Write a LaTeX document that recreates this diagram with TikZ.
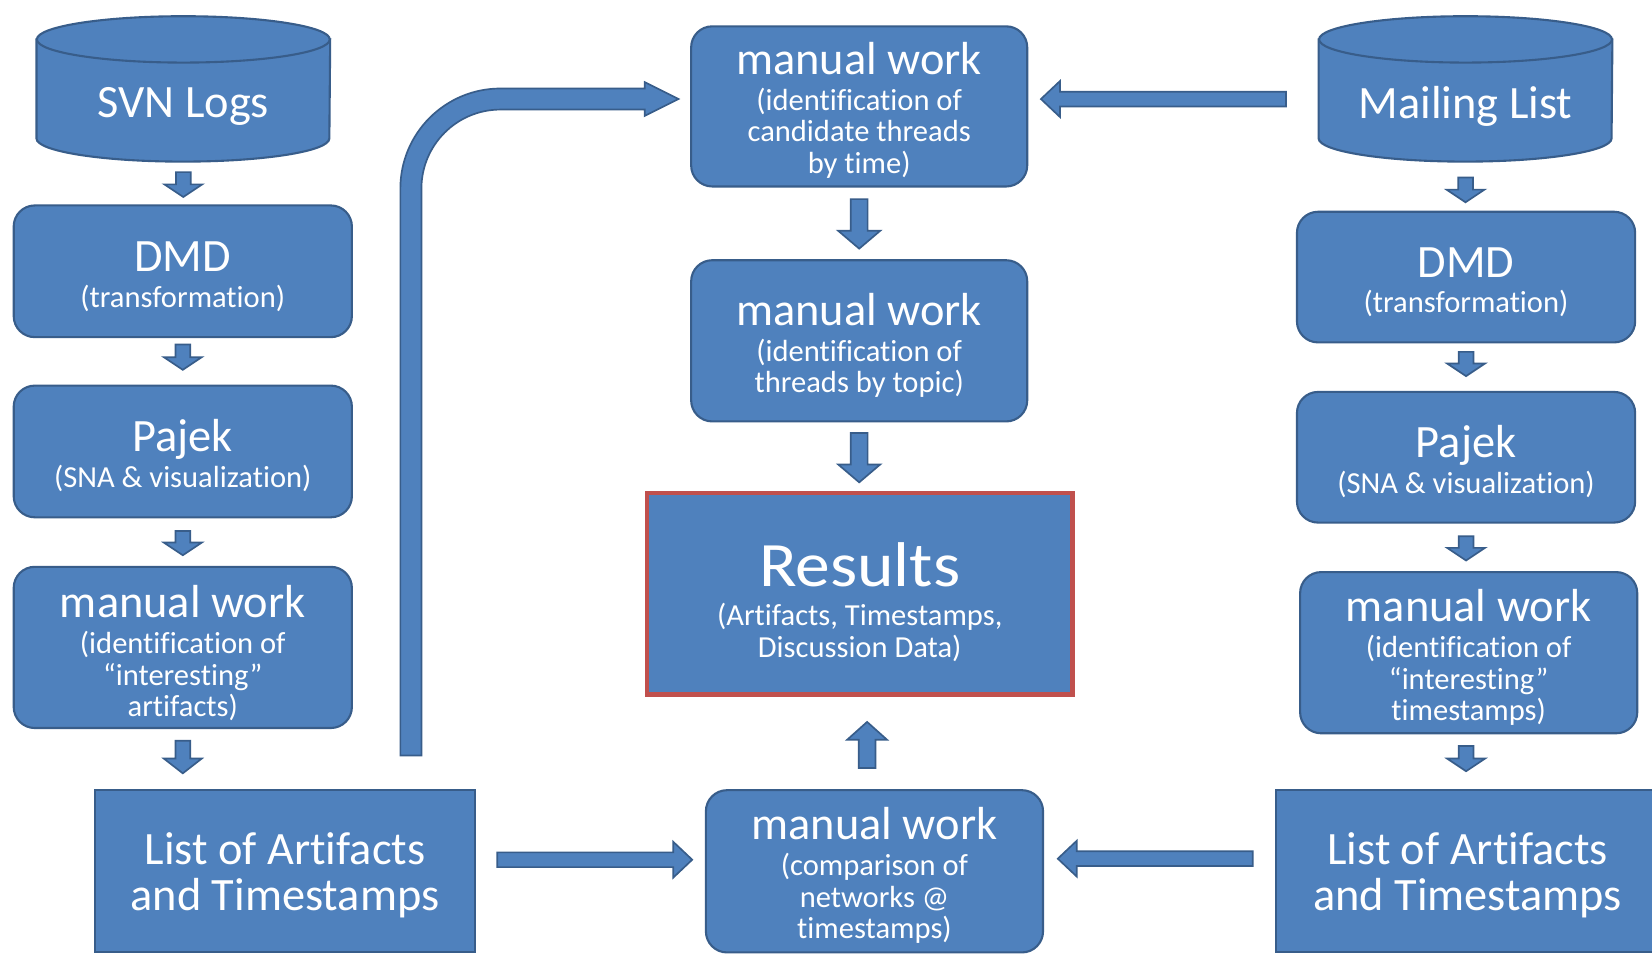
\documentclass[tikz,border=0pt]{standalone}
\usepackage{fontspec}
\usepackage{graphicx}
\setmainfont{Carlito}[Ligatures=NoCommon]
\usetikzlibrary{calc}
\definecolor{bfill}{HTML}{4F81BD}
\definecolor{bdraw}{HTML}{385D8A}
\definecolor{rdraw}{HTML}{C0504D}
\newcommand{\ttl}{\fontsize{22}{24}\selectfont}
\newcommand{\sbt}{\fontsize{14.5}{15}\selectfont}
\newcommand{\lst}{\fontsize{22}{22}\selectfont}
\newcommand{\up}[1]{\rule{0pt}{#1}}
\pgfdeclarelayer{background}
\pgfsetlayers{background,main}
% block arrows: #1 start coord, #2 end coord, #3 shaft half width, #4 head half width, #5 head length
\newcommand{\darr}[5]{\draw[blk] ($(#1)+(-#3,0)$) -- ($(#1)+(#3,0)$) -- ($(#1|-#2)+(#3,-#5)$) -- ($(#1|-#2)+(#4,-#5)$) -- (#1|-#2) -- ($(#1|-#2)+(-#4,-#5)$) -- ($(#1|-#2)+(-#3,-#5)$) -- cycle;}
\newcommand{\uarr}[5]{\draw[blk] ($(#1)+(-#3,0)$) -- ($(#1)+(#3,0)$) -- ($(#1|-#2)+(#3,#5)$) -- ($(#1|-#2)+(#4,#5)$) -- (#1|-#2) -- ($(#1|-#2)+(-#4,#5)$) -- ($(#1|-#2)+(-#3,#5)$) -- cycle;}
\newcommand{\rarr}[5]{\draw[blk] ($(#1)+(0,-#3)$) -- ($(#2|-#1)+(-#5,-#3)$) -- ($(#2|-#1)+(-#5,-#4)$) -- (#2|-#1) -- ($(#2|-#1)+(-#5,#4)$) -- ($(#2|-#1)+(-#5,#3)$) -- ($(#1)+(0,#3)$) -- cycle;}
\newcommand{\larr}[5]{\draw[blk] ($(#1)+(0,-#3)$) -- ($(#2|-#1)+(#5,-#3)$) -- ($(#2|-#1)+(#5,-#4)$) -- (#2|-#1) -- ($(#2|-#1)+(#5,#4)$) -- ($(#2|-#1)+(#5,#3)$) -- ($(#1)+(0,#3)$) -- cycle;}
\tikzset{
  box/.style={draw=bdraw, fill=bfill, line width=1pt, text=white, align=center, font=\sbt, inner sep=0pt},
  rbox/.style={box, rounded corners=10pt},
  sbox/.style={box, font=\lst},
  blk/.style={draw=bdraw, fill=bfill, line width=0.8pt, line join=miter},
  cyl/.style={draw=bdraw, fill=bfill, line width=1pt},
  dbtext/.style={text=white, font=\ttl, inner sep=0pt},
}
\begin{document}
\begin{tikzpicture}[x=0.5pt,y=-0.5pt]
\useasboundingbox (0,0) rectangle (1568,909);

% ---------- databases ----------
\node[dbtext, minimum width=139pt, minimum height=52pt] (svn) at (174,101) {SVN Logs};
\node[dbtext, minimum width=139pt, minimum height=52pt] (mail) at (1391,101) {Mailing List};
\begin{pgfonlayer}{background}
\fill[white] (0,0) rectangle (1568,909);
\draw[cyl] ($(svn.south west)+(0,-116)$) -- ($(svn.south west)+(0,-22)$) arc[start angle=180,end angle=0,x radius=139,y radius=22] -- ($(svn.south east)+(0,-116)$) -- cycle;
\draw[cyl] ($(svn.south)+(0,-116)$) ellipse[x radius=139, y radius=22];
\draw[cyl] ($(mail.south west)+(0,-116)$) -- ($(mail.south west)+(0,-22)$) arc[start angle=180,end angle=0,x radius=139,y radius=22] -- ($(mail.south east)+(0,-116)$) -- cycle;
\draw[cyl] ($(mail.south)+(0,-116)$) ellipse[x radius=139, y radius=22];
\end{pgfonlayer}

% ---------- left column ----------
\node[rbox, minimum width=160.5pt, minimum height=62.5pt] (dmdL) at (173.5,257.5) {{\ttl\up{19pt}DMD}\\[2pt](transformation)};
\node[rbox, minimum width=160.5pt, minimum height=62.5pt] (pajL) at (173.5,428.5) {{\ttl\up{19pt}Pajek}\\[2pt](SNA \& visualization)};
\node[rbox, minimum width=160.5pt, minimum height=76.5pt] (manL) at (173.5,614.5) {{\ttl\up{21pt}manual work}\\[2pt](identification of\\“interesting”\\artifacts)};
\node[sbox, minimum width=180.5pt, minimum height=77pt] (listL) at (270.5,827) {\up{19pt}List of Artifacts\\and Timestamps};

% ---------- middle column ----------
\node[rbox, minimum width=159.5pt, minimum height=76pt] (manT) at (815.5,101) {{\ttl\up{19pt}manual work}\\[2pt](identification of\\candidate threads\\by time)};
\node[rbox, minimum width=159.5pt, minimum height=76.5pt] (manM) at (815.5,323.5) {{\ttl\up{19.5pt}manual work}\\[2pt](identification of\\threads by topic)};
\node[box, draw=rdraw, line width=2.2pt, minimum width=202pt, minimum height=95.5pt] (results) at (816,563.5) {{\fontsize{30}{32}\selectfont\up{29pt}\scalebox{1.1}[1]{Results}}\\[3.5pt](Artifacts, Timestamps,\\Discussion Data)};
\node[rbox, minimum width=160pt, minimum height=77pt] (manB) at (830,827) {{\ttl\up{19.5pt}manual work}\\[2pt](comparison of\\networks @\\timestamps)};

% ---------- right column ----------
\node[rbox, minimum width=160.5pt, minimum height=62pt] (dmdR) at (1391.5,263) {{\ttl\up{19pt}DMD}\\[2pt](transformation)};
\node[rbox, minimum width=160.5pt, minimum height=62pt] (pajR) at (1391.5,434) {{\ttl\up{19pt}Pajek}\\[2pt](SNA \& visualization)};
\node[rbox, minimum width=160pt, minimum height=76.5pt] (manR) at (1394,619.5) {{\ttl\up{20pt}manual work}\\[2pt](identification of\\“interesting”\\timestamps)};
\node[sbox, minimum width=182pt, minimum height=77pt] (listR) at (1393,827) {\up{19pt}List of Artifacts\\and Timestamps};

% ---------- arrows: left column ----------
\coordinate (a1) at ($(svn.south)+(0,10)$);   \coordinate (a2) at ($(dmdL.north)+(0,-7)$);
\coordinate (b1) at ($(dmdL.south)+(0,6)$);   \coordinate (b2) at ($(pajL.north)+(0,-14)$);
\coordinate (c1) at ($(pajL.south)+(0,12)$);  \coordinate (c2) at ($(manL.north)+(0,-10)$);
\coordinate (d1) at ($(manL.south)+(0,11)$);  \coordinate (d2) at ($(listL.north)+(0,-15)$);
\darr{a1}{a2}{7}{18}{12}
\darr{b1}{b2}{7}{18}{12}
\darr{c1}{c2}{7}{18}{12}
\darr{d1}{d2}{7}{18}{14}

% ---------- arrows: right column ----------
\coordinate (e1) at ($(mail.south)+(0,15)$);  \coordinate (e2) at ($(dmdR.north)+(0,-8)$);
\coordinate (f1) at ($(dmdR.south)+(0,8)$);   \coordinate (f2) at ($(pajR.north)+(0,-14)$);
\coordinate (g1) at ($(pajR.south)+(0,12)$);  \coordinate (g2) at ($(manR.north)+(0,-10)$);
\coordinate (h1) at ($(manR.south)+(-2.5,11)$); \coordinate (h2) at ($(listR.north)+(0,-17)$);
\darr{e1}{e2}{7}{18}{12}
\darr{f1}{f2}{7}{18}{12}
\darr{g1}{g2}{7}{18}{12}
\darr{h1}{h2}{7}{18}{12}

% ---------- arrows: middle ----------
\coordinate (m1) at ($(manT.south)+(0,11)$);  \coordinate (m2) at ($(manM.north)+(0,-10)$);
\coordinate (n1) at ($(manM.south)+(0,10)$);  \coordinate (n2) at ($(results.north)+(0,-8)$);
\coordinate (u1) at ($(manB.north)+(-7,-20)$); \coordinate (u2) at ($(results.south)+(0,24)$);
\darr{m1}{m2}{8}{20}{17}
\darr{n1}{n2}{8}{20}{17}
\uarr{u1}{u2}{8}{19}{17}

% ---------- horizontal arrows ----------
\coordinate (r1) at ($(listL.east)+(20,-11)$); \coordinate (r2) at ($(manB.west)+(-12,0)$);
\coordinate (l1) at ($(listR.west)+(-21,-12)$); \coordinate (l2) at ($(manB.east)+(13,0)$);
\coordinate (t1) at ($(mail.west)+(-31,-7)$); \coordinate (t2) at ($(manT.east)+(12,0)$);
\rarr{r1}{r2}{7}{17}{18}
\larr{l1}{l2}{7}{17}{18}
\larr{t1}{t2}{7}{17}{18}

% ---------- big curved arrow ----------
\coordinate (bs) at ($(listL.north)+(119.5,-32)$);
\coordinate (be) at ($(manT.west)+(-11,-7)$);
\coordinate (K) at (bs|-be);
\draw[blk] ($(bs)+(-10,0)$) -- ($(K)+(-10,85)$) arc[start angle=180,end angle=270,radius=95]
  -- ($(be)+(-32,-10)$) -- ($(be)+(-32,-16)$) -- (be) -- ($(be)+(-32,16)$) -- ($(be)+(-32,10)$)
  -- ($(K)+(85,10)$) arc[start angle=270,end angle=180,radius=75] -- ($(bs)+(10,0)$) -- cycle;
\end{tikzpicture}
\end{document}
